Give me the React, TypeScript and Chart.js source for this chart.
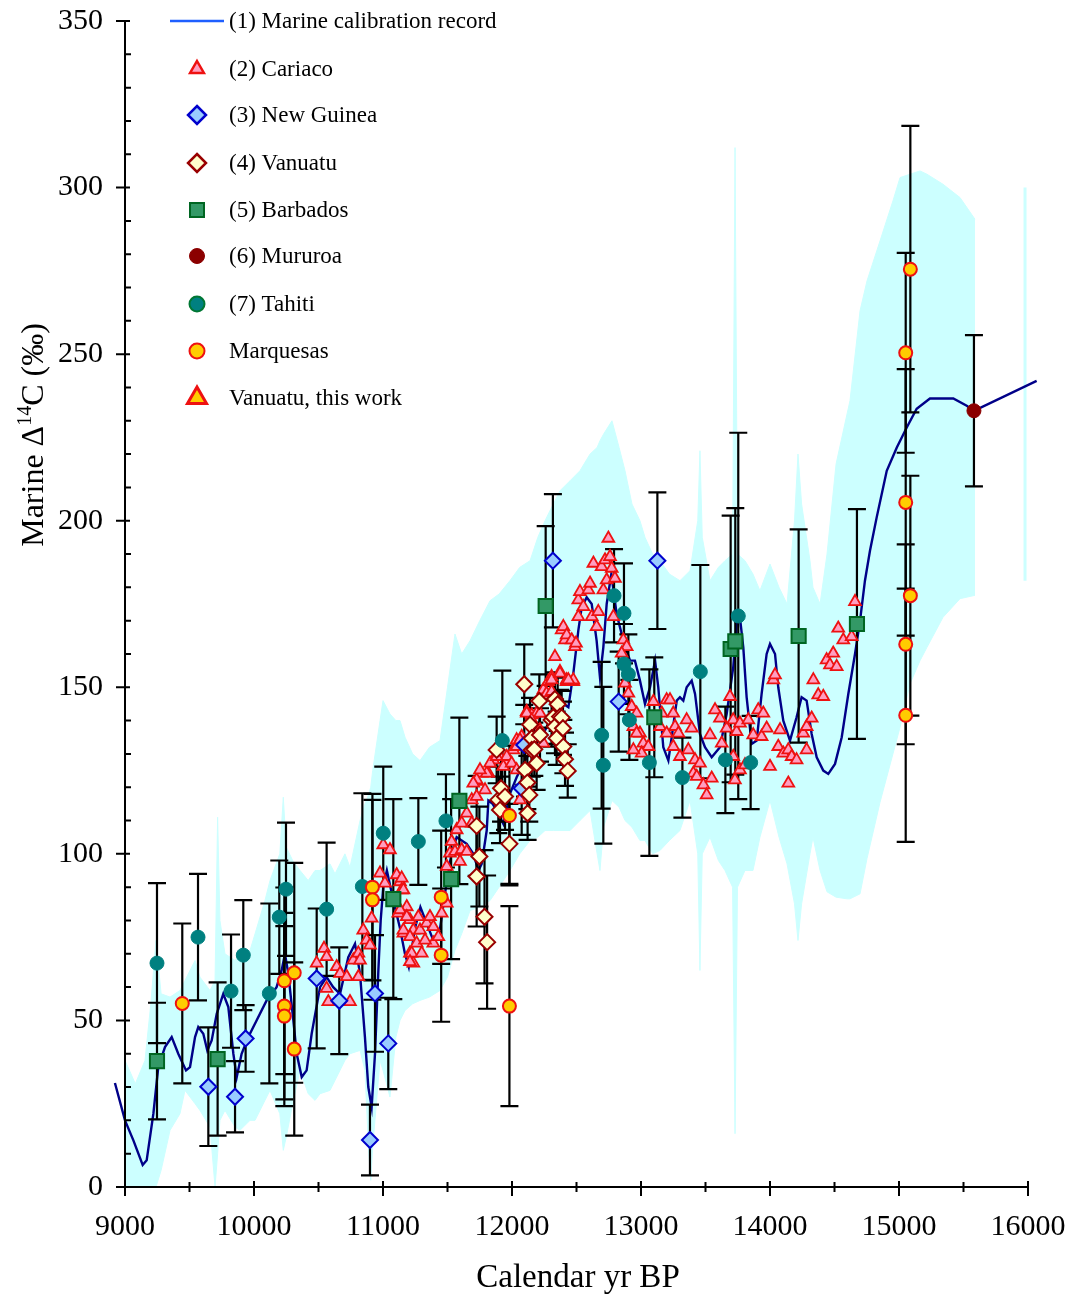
import React, { useEffect, useRef } from "react";
import { Chart, registerables } from "chart.js";

Chart.register(...registerables);

const FONT = '"Liberation Serif", "Times New Roman", serif';

// ---------- Marine calibration record (year BP, Δ14C ‰) ----------
const calYears = [8922, 9000, 9065, 9137, 9168, 9220, 9258, 9310, 9362, 9413, 9473, 9504, 9543, 9568, 9607, 9638, 9672, 9711, 9762, 9801, 9840, 9866, 9904, 9956, 10020, 10098, 10175, 10214, 10240, 10266, 10305, 10331, 10370, 10408, 10447, 10512, 10563, 10614, 10667, 10731, 10783, 10822, 10860, 10886, 10912, 10938, 10964, 10982, 11002, 11030, 11080, 11130, 11170, 11200, 11250, 11290, 11340, 11390, 11440, 11480, 11530, 11571, 11649, 11700, 11740, 11765, 11804, 11817, 11850, 11881, 11933, 11984, 12036, 12101, 12165, 12242, 12320, 12400, 12437, 12475, 12514, 12540, 12579, 12618, 12656, 12682, 12708, 12734, 12770, 12811, 12863, 12915, 12953, 12992, 13031, 13070, 13109, 13134, 13173, 13212, 13238, 13277, 13302, 13328, 13354, 13393, 13419, 13457, 13496, 13548, 13612, 13664, 13715, 13741, 13767, 13793, 13819, 13858, 13897, 13935, 13974, 14000, 14039, 14064, 14103, 14155, 14206, 14245, 14284, 14323, 14362, 14413, 14452, 14504, 14556, 14607, 14659, 14698, 14736, 14775, 14827, 14905, 14983, 15060, 15137, 15240, 15421, 15525, 15581, 16067];
const calValues = [31.2, 20, 14, 6.6, 8, 22, 36, 42, 45, 40, 35, 36, 45, 48, 46, 41, 44, 52, 58, 54, 40, 33, 40, 45, 50, 56, 60, 65, 70, 64, 50, 40, 33, 35, 46, 60, 63, 60, 58, 69, 73, 64, 45, 30, 24, 40, 65, 80, 90, 95, 86, 78, 70, 66, 78, 84, 79, 74, 77, 88, 100, 105, 103, 100, 95, 97, 107, 116, 115, 113, 109, 118, 123, 128, 132, 136, 142, 145, 144, 154, 167, 174, 177, 175, 164, 153, 162, 175, 184, 172, 164, 158, 158, 152, 145, 150, 158, 150, 132, 128, 135, 146, 147, 146, 150, 152, 148, 136, 132, 129, 132, 142, 156, 169, 171, 162, 147, 133, 134, 148, 160, 163, 160, 150, 140, 134, 141, 147, 146, 136, 129, 125, 124, 127, 135, 148, 160, 170, 182, 191, 201, 215, 222, 228, 233.6, 236.7, 236.7, 234.5, 233, 242];

// ---------- uncertainty envelope ----------
const bandYears = [9000, 9080, 9155, 9200, 9240, 9280, 9349, 9426, 9465, 9543, 9581, 9659, 9698, 9718, 9736, 9775, 9853, 9891, 9969, 10008, 10085, 10124, 10200, 10227, 10250, 10300, 10357, 10420, 10473, 10512, 10589, 10628, 10705, 10744, 10822, 10860, 10890, 10905, 10920, 10977, 11000, 11054, 11100, 11132, 11171, 11230, 11287, 11360, 11442, 11500, 11558, 11610, 11675, 11750, 11830, 11900, 11984, 12060, 12140, 12200, 12256, 12320, 12372, 12450, 12527, 12605, 12660, 12682, 12710, 12775, 12830, 12876, 12930, 12992, 13031, 13090, 13147, 13220, 13302, 13380, 13440, 13457, 13475, 13535, 13600, 13651, 13710, 13729, 13748, 13806, 13868, 13922, 14000, 14070, 14132, 14190, 14217, 14245, 14310, 14333, 14388, 14442, 14512, 14597, 14620, 14698, 14752, 14853, 14953, 15008, 15085, 15163, 15217, 15341, 15473, 15589];
const bandUpper = [38, 31, 38, 55, 74, 58, 57, 59, 62, 68, 63, 59, 62, 111, 80, 70, 68, 70, 71, 76, 86, 92, 100, 117, 102, 98, 95, 92, 95, 95, 97, 94, 100, 96, 110, 115, 118, 120, 125, 140, 146, 142, 140, 140, 135, 130, 128, 132, 134, 150, 166, 160, 164, 170, 176, 178, 182, 186, 188, 195, 200, 205, 209, 212, 215, 220, 222, 224, 226, 230, 222, 215, 205, 200, 195, 190, 188, 184, 182, 185, 200, 221, 195, 182, 186, 188, 190, 312, 190, 188, 184, 179, 187, 180, 175, 200, 220, 205, 188, 180, 175, 190, 217, 232, 236, 263, 272, 284, 296, 303, 304, 305, 304, 301, 297, 290.5];
const bandLower = [0, 0, 0, 0, 0, 5, 17, 22, 29, 25, 23, 18, 0, 10, 20, 23, 18, 17, 20, 20, 26, 29, 22, 11, 15, 25, 35, 28, 26, 28, 29, 32, 38, 40, 41, 35, 10, 2, 12, 38, 35, 27, 45, 50, 53, 55, 56, 57, 59, 63, 71, 76, 83, 84, 86, 90, 95, 100, 104, 105, 107, 107, 107, 107, 110, 113, 100, 95, 108, 116, 114, 110, 108, 104, 104, 100, 101, 104, 107, 116, 100, 65, 100, 105, 98, 95, 90, 16, 90, 95, 95, 105, 116, 105, 97, 85, 74, 85, 100, 105, 95, 88.6, 87, 86.5, 86.5, 88, 98.6, 115.5, 130, 138, 151, 158, 162, 171, 176.6, 177.6];
const isolatedBandYear = [15977, 15977];
const isolatedBandValues = [182, 300];

// ---------- data sets: [year, Δ14C] or [year, Δ14C, ±error] ----------
const cariaco: [number, number][] = [
  [10486, 67.2], [10543, 71.6], [10563, 69.1], [10563, 59.6], [10576, 55.6], [10641, 66.1], [10667, 64.1], [10719, 63.1], [10744, 55.6], [10770, 68.1], [10809, 70.2], [10822, 68.1], [10809, 63.1], [10847, 77.1], [10873, 74.1], [10899, 72.6], [10912, 80.7], [10977, 94.2], [11002, 102.7], [11015, 91.2], [11054, 101.2], [11106, 93.7], [11132, 91.6], [11145, 89.2], [11119, 82.2], [11184, 84.1], [11209, 80.2], [11158, 76.2], [11235, 77.1], [11209, 70.2], [11235, 67.2],
  [11145, 92.7], [11158, 89.2], [11132, 83.2], [11184, 81.1], [11158, 77.1], [11209, 75.1], [11222, 70.2], [11209, 67.6], [11274, 81.1], [11287, 77.1], [11261, 73.2], [11300, 70.2], [11339, 79.2], [11364, 81.1], [11390, 78.1], [11390, 73.2], [11429, 75.1], [11326, 74.1], [11455, 82.2], [11494, 85.2], [11494, 96.2], [11519, 100.2], [11532, 103.7], [11571, 107.2], [11558, 100.7], [11597, 97.7], [11610, 101.2], [11649, 100.7], [11610, 109.2], [11649, 112.2], [11688, 116.2], [11726, 121.7], [11765, 124.2], [11817, 124.2], [11791, 119.2], [11855, 128.2], [11907, 129.2], [11959, 127.2], [12010, 131.2], [12036, 134.2], [12075, 135.2], [12114, 142.7], [12153, 141.7], [12191, 142.2], [12217, 137.2], [12243, 149.2], [12281, 151.7], [12307, 153.2], [12333, 159.2], [12372, 154.7], [12423, 151.7], [12475, 151.7], [12062, 116.2], [11907, 133.7], [11726, 117.2], [11688, 109.2],
  [11726, 122.2], [11804, 124.2], [11933, 126.2], [11959, 129.2], [12036, 132.2], [12062, 134.2], [12114, 142.2], [12153, 140.2], [12217, 142.2], [12268, 148.2], [12307, 152.2], [12307, 148.7], [12372, 154.2], [12424, 152.2], [12385, 167.2], [12411, 164.2], [12488, 162.2], [11830, 127.2], [11881, 129.2], [11752, 125.2], [11700, 121.2], [11997, 127.2], [12036, 125.2], [12217, 136.2], [12243, 133.2],
  [12398, 168.2], [12424, 165.7], [12463, 164.2], [12496, 163.2], [12475, 152.2], [12437, 152.2], [12514, 176.2], [12527, 178.7], [12553, 174.2], [12514, 171.2], [12592, 179.2], [12605, 181.2], [12631, 187.2], [12618, 171.2], [12656, 168.2], [12669, 172.7], [12695, 186.2], [12721, 188.2], [12747, 194.7], [12760, 189.2], [12773, 185.7], [12708, 179.2], [12734, 182.2], [12798, 182.7], [12786, 171.2], [12863, 164.2], [12889, 162.2], [12850, 160.2], [12876, 151.2], [12902, 148.2], [12928, 144.2], [12966, 142.2], [12941, 138.2], [12992, 136.2], [13018, 133.2], [13057, 132.2], [13005, 130.2], [12966, 136.2], [12941, 131.2], [13096, 145.7], [13161, 142.2], [13199, 146.2], [13225, 146.2], [13250, 142.2], [13264, 138.2], [13290, 136.2], [13354, 140.2], [13250, 132.2], [13302, 129.2], [13148, 138.2], [13199, 136.2],
  [13393, 137.7], [13367, 131.2], [13419, 128.2], [13457, 127.2], [13406, 124.2], [13432, 123.2], [13484, 120.7], [13509, 117.7], [13548, 122.7], [13535, 135.7], [13574, 143.2], [13626, 133.2], [13612, 140.7], [13690, 147.2], [13664, 137.7], [13715, 140.2], [13741, 136.7], [13767, 139.2], [13715, 129.2], [13728, 122.2], [13767, 125.2], [13806, 126.7], [13832, 140.2], [13870, 135.7], [13909, 143.2], [13935, 135.2], [13948, 142.2], [13974, 137.7], [14000, 126.2], [14026, 152.2], [14039, 153.7], [14078, 137.2], [14064, 132.2], [14103, 130.2], [14142, 131.2], [14168, 129.2], [14206, 128.2], [14142, 121.2], [14258, 136.2], [14284, 138.2], [14323, 140.7], [14284, 131.2], [14336, 152.2], [14374, 147.7], [14413, 147.2], [14439, 158.2], [14465, 156.7], [14490, 160.2], [14517, 156.2], [14529, 167.7], [14568, 164.2], [14633, 165.2], [14659, 175.7],
];

const newGuinea: [number, number, number][] = [
  [9646, 30.1, 17.8], [9853, 27.1, 10.7], [9935, 44.6, 10], [10486, 62.6, 21], [10661, 55.9, 16], [10899, 14.1, 10.6], [10938, 58.1, 17.5], [11041, 43.1, 13.7], [12317, 188.0, 20], [13127, 188.0, 20.5], [12827, 145.7, 15], [12075, 119.7, 14], [12095, 132.7, 12],
];

const vanuatu: [number, number, number][] = [
  [11881, 131.2, 10], [11894, 116.2, 10], [11915, 119.7, 10], [11907, 113.2, 10], [11946, 117.2, 10], [11980, 103.0, 12], [12095, 150.9, 12], [12101, 125.2, 8], [12119, 121.4, 8], [12121, 112.2, 8], [12134, 117.7, 8], [12140, 138.8, 8], [12153, 134.7, 8], [12153, 131.2, 8], [12173, 131.4, 8], [12191, 127.2, 8], [12212, 145.9, 8], [12217, 135.7, 8], [12307, 140.2, 8], [12320, 141.0, 8], [12333, 146.5, 8], [12333, 138.2, 8], [12346, 134.7, 8], [12354, 144.9, 8], [12372, 141.2, 8], [12385, 140.9, 8], [12395, 137.7, 8], [12398, 132.2, 8], [12411, 128.4, 8], [12432, 124.9, 8], [11726, 108.4, 15], [11747, 99.2, 15], [11726, 93.2, 15], [11787, 81.1, 20], [11807, 73.5, 20],
];

const barbados: [number, number, number][] = [
  [9248, 37.8, 17.5], [9718, 38.4, 23], [11080, 86.4, 30], [11528, 92.4, 24], [11592, 115.9, 25], [12261, 174.4, 24], [13103, 141.0, 18], [13695, 161.5, 40], [13731, 163.8, 40], [14222, 165.4, 32], [14674, 169.0, 34.5],
];

const mururoa: [number, number, number][] = [[15581, 233, 22.7]];

const tahiti: [number, number, number][] = [
  [9248, 67.2, 24], [9566, 75.0, 19], [9822, 58.8, 17], [9917, 69.6, 16.5], [10119, 58.1, 27], [10196, 81.0, 17], [10248, 89.4, 20], [10563, 83.4, 20], [10840, 90.2, 28], [11002, 106.2, 20], [11274, 103.7, 13], [11488, 109.9, 14], [11925, 134.0, 21], [12695, 135.6, 22], [12708, 126.6, 23.5], [12791, 177.5, 14], [12868, 172.2, 15], [12868, 157.0, 12], [12902, 153.9, 12], [12910, 140.2, 12], [13065, 127.4, 28], [13321, 122.9, 12], [13460, 154.7, 32], [13654, 128.2, 16], [13754, 171.4, 55], [13850, 127.4, 14],
];

const marquesas: [number, number, number][] = [
  [9444, 55.1, 24], [10235, 61.9, 28], [10235, 54.3, 28], [10235, 51.3, 27], [10312, 64.3, 33], [10312, 41.4, 26], [10918, 90.0, 28], [10918, 86.2, 30], [11451, 87.0, 20], [11451, 69.6, 20], [11980, 111.5, 21], [11980, 54.3, 30], [15088, 275.5, 43], [15052, 250.4, 30], [15052, 205.5, 40], [15088, 177.5, 36], [15052, 162.9, 30], [15052, 141.6, 38],
];

const vanuatuThisWork: [number, number][] = [];

const xTicks = [9000, 10000, 11000, 12000, 13000, 14000, 15000, 16000];
const yTicks = [0, 50, 100, 150, 200, 250, 300, 350];

// ---------- styles ----------
const C = {
  band: "#ccffff",
  line: "#000088",
  legendLine: "#1f5fff",
  cariacoFill: "#ff9ec0",
  cariacoStroke: "#ee1111",
  ngFill: "#99ccff",
  ngStroke: "#0000cc",
  vanFill: "#ffffcc",
  vanStroke: "#990000",
  barFill: "#339966",
  barStroke: "#006622",
  murFill: "#8b0000",
  tahFill: "#008080",
  tahStroke: "#007755",
  marFill: "#ffcc00",
  marStroke: "#ee1111",
};

const legendItems = [
  { label: "(1) Marine calibration record", kind: "line" },
  { label: "(2) Cariaco", kind: "triangle", r: 8, fill: C.cariacoFill, stroke: C.cariacoStroke, lw: 2.5 },
  { label: "(3) New Guinea", kind: "diamond", r: 9, fill: C.ngFill, stroke: C.ngStroke, lw: 2.5 },
  { label: "(4) Vanuatu", kind: "diamond", r: 9, fill: C.vanFill, stroke: C.vanStroke, lw: 2.5 },
  { label: "(5) Barbados", kind: "square", r: 7, fill: C.barFill, stroke: C.barStroke, lw: 2 },
  { label: "(6) Mururoa", kind: "circle", r: 7.5, fill: C.murFill, stroke: C.murFill, lw: 1 },
  { label: "(7) Tahiti", kind: "circle", r: 7.5, fill: C.tahFill, stroke: "#007733", lw: 2 },
  { label: "Marquesas", kind: "circle", r: 7.5, fill: C.marFill, stroke: C.marStroke, lw: 2 },
  { label: "Vanuatu, this work", kind: "triangle", r: 11, fill: C.marFill, stroke: C.marStroke, lw: 3 },
];
const legendYs = [21, 69, 115, 163, 210, 256, 304, 351, 398];

function drawMarker(ctx: CanvasRenderingContext2D, kind: string, x: number, y: number, r: number, fill: string, stroke: string, lw: number) {
  ctx.save();
  ctx.beginPath();
  if (kind === "circle") {
    ctx.arc(x, y, r, 0, Math.PI * 2);
  } else if (kind === "square") {
    ctx.rect(x - r, y - r, 2 * r, 2 * r);
  } else if (kind === "diamond") {
    ctx.moveTo(x, y - r);
    ctx.lineTo(x + r, y);
    ctx.lineTo(x, y + r);
    ctx.lineTo(x - r, y);
    ctx.closePath();
  } else if (kind === "triangle") {
    const h = r * 0.866;
    ctx.moveTo(x, y - r);
    ctx.lineTo(x + h, y + r / 2);
    ctx.lineTo(x - h, y + r / 2);
    ctx.closePath();
  }
  ctx.fillStyle = fill;
  ctx.fill();
  ctx.lineWidth = lw;
  ctx.strokeStyle = stroke;
  ctx.stroke();
  ctx.restore();
}

const errorBarsPlugin = {
  id: "errorBars",
  afterDatasetDraw(chart: any, args: any) {
    const ds = chart.data.datasets[args.index];
    if (!ds.drawErrorBarsAfter) return;
    const { ctx } = chart;
    const xs = chart.scales.x;
    const ys = chart.scales.y;
    ctx.save();
    ctx.strokeStyle = "#000";
    ctx.lineWidth = 2.2;
    chart.data.datasets.forEach((d: any) => {
      if (!d.errors) return;
      d.data.forEach((p: any, i: number) => {
        const e = d.errors[i];
        const px = xs.getPixelForValue(p.x);
        const y1 = ys.getPixelForValue(p.y - e);
        const y2 = ys.getPixelForValue(p.y + e);
        ctx.beginPath();
        ctx.moveTo(px, y1);
        ctx.lineTo(px, y2);
        ctx.moveTo(px - 9, y1);
        ctx.lineTo(px + 9, y1);
        ctx.moveTo(px - 9, y2);
        ctx.lineTo(px + 9, y2);
        ctx.stroke();
      });
    });
    ctx.restore();
  },
};

const axesPlugin = {
  id: "axesDecor",
  afterDraw(chart: any) {
    const { ctx, chartArea } = chart;
    const { left, right, top, bottom } = chartArea;
    const xs = chart.scales.x;
    const ys = chart.scales.y;
    ctx.save();
    ctx.strokeStyle = "#000";
    ctx.lineWidth = 2;
    ctx.beginPath();
    ctx.moveTo(left, top);
    ctx.lineTo(left, bottom + 9);
    ctx.moveTo(left - 7, bottom);
    ctx.lineTo(right, bottom);
    for (let v = 0; v <= 350; v += 10) {
      const py = ys.getPixelForValue(v);
      if (v % 50 === 0) {
        ctx.moveTo(left - 9, py);
        ctx.lineTo(left + 5, py);
      } else {
        ctx.moveTo(left - 1, py);
        ctx.lineTo(left + 6, py);
      }
    }
    for (let v = 9000; v <= 16000; v += 500) {
      const px = xs.getPixelForValue(v);
      if (v % 1000 === 0) {
        ctx.moveTo(px, bottom - 6);
        ctx.lineTo(px, bottom + 9);
      } else {
        ctx.moveTo(px, bottom - 5);
        ctx.lineTo(px, bottom + 5);
      }
    }
    ctx.stroke();

    // axis titles
    ctx.fillStyle = "#000";
    ctx.font = `33px ${FONT}`;
    ctx.textAlign = "center";
    ctx.textBaseline = "alphabetic";
    ctx.fillText("Calendar yr BP", 578, 1287);

    ctx.save();
    ctx.translate(43, 435);
    ctx.rotate(-Math.PI / 2);
    ctx.textAlign = "left";
    const p1 = "Marine \u0394";
    const p2 = "14";
    const p3 = "C (\u2030)";
    ctx.font = `32px ${FONT}`;
    const w1 = ctx.measureText(p1).width;
    const w3 = ctx.measureText(p3).width;
    ctx.font = `20px ${FONT}`;
    const w2 = ctx.measureText(p2).width;
    let x0 = -(w1 + w2 + w3) / 2;
    ctx.font = `32px ${FONT}`;
    ctx.fillText(p1, x0, 0);
    x0 += w1;
    ctx.font = `20px ${FONT}`;
    ctx.fillText(p2, x0, -12);
    x0 += w2;
    ctx.font = `32px ${FONT}`;
    ctx.fillText(p3, x0, 0);
    ctx.restore();

    // legend
    ctx.font = `23px ${FONT}`;
    ctx.textAlign = "left";
    ctx.textBaseline = "middle";
    legendItems.forEach((it: any, i: number) => {
      const y = legendYs[i];
      if (it.kind === "line") {
        ctx.strokeStyle = C.legendLine;
        ctx.lineWidth = 2.5;
        ctx.beginPath();
        ctx.moveTo(170, y);
        ctx.lineTo(224, y);
        ctx.stroke();
      } else {
        drawMarker(ctx, it.kind, 197, y, it.r, it.fill, it.stroke, it.lw);
      }
      ctx.fillStyle = "#000";
      ctx.fillText(it.label, 229, y + 1);
    });
    ctx.restore();
  },
};

const toPts = (xs: number[], ys: number[]) => xs.map((x, i) => ({ x, y: ys[i] }));
const pairPts = (arr: number[][]) => arr.map((p) => ({ x: p[0], y: p[1] }));
const errs = (arr: number[][]) => arr.map((p) => p[2]);

export default function App() {
  const ref = useRef<HTMLCanvasElement>(null);
  useEffect(() => {
    const canvas = ref.current;
    if (!canvas) return;
    const datasets: any[] = [
      { label: "band upper", data: toPts(bandYears, bandUpper), showLine: true, fill: "+1", backgroundColor: C.band, borderColor: C.band, borderWidth: 1, pointRadius: 0, order: 12 },
      { label: "band lower", data: toPts(bandYears, bandLower), showLine: true, fill: false, borderColor: C.band, borderWidth: 1, pointRadius: 0, order: 11 },
      { label: "band isolated", data: toPts(isolatedBandYear, isolatedBandValues), showLine: true, fill: false, borderColor: C.band, borderWidth: 3, pointRadius: 0, order: 10 },
      { label: "(1) Marine calibration record", data: toPts(calYears, calValues), showLine: true, fill: false, borderColor: C.line, borderWidth: 2.4, pointRadius: 0, order: 9, clip: false, drawErrorBarsAfter: true },
      { label: "(2) Cariaco", data: pairPts(cariaco), pointStyle: "triangle", pointRadius: 6.8, backgroundColor: C.cariacoFill, borderColor: C.cariacoStroke, borderWidth: 1.8, order: 8 },
      { label: "(3) New Guinea", data: pairPts(newGuinea), errors: errs(newGuinea), pointStyle: "rectRot", pointRadius: 8, backgroundColor: C.ngFill, borderColor: C.ngStroke, borderWidth: 2, order: 7 },
      { label: "(4) Vanuatu", data: pairPts(vanuatu), errors: errs(vanuatu), pointStyle: "rectRot", pointRadius: 8, backgroundColor: C.vanFill, borderColor: C.vanStroke, borderWidth: 2, order: 6 },
      { label: "(5) Barbados", data: pairPts(barbados), errors: errs(barbados), pointStyle: "rect", pointRadius: 10, backgroundColor: C.barFill, borderColor: C.barStroke, borderWidth: 2, order: 5 },
      { label: "(7) Tahiti", data: pairPts(tahiti), errors: errs(tahiti), pointStyle: "circle", pointRadius: 7, backgroundColor: C.tahFill, borderColor: C.tahFill, borderWidth: 1, order: 4 },
      { label: "Marquesas", data: pairPts(marquesas), errors: errs(marquesas), pointStyle: "circle", pointRadius: 6.5, backgroundColor: C.marFill, borderColor: C.marStroke, borderWidth: 2, order: 3 },
      { label: "(6) Mururoa", data: pairPts(mururoa), errors: errs(mururoa), pointStyle: "circle", pointRadius: 7, backgroundColor: C.murFill, borderColor: C.murFill, borderWidth: 1, order: 2 },
      { label: "Vanuatu, this work", data: pairPts(vanuatuThisWork), pointStyle: "triangle", pointRadius: 10, backgroundColor: C.marFill, borderColor: C.marStroke, borderWidth: 2.5, order: 1 },
    ];
    const chart = new Chart(canvas, {
      type: "scatter",
      data: { datasets },
      options: {
        animation: false,
        responsive: false,
        devicePixelRatio: 1,
        events: [],
        layout: { padding: { left: 0, top: 21, right: 44, bottom: 0 } },
        plugins: { legend: { display: false }, tooltip: { enabled: false } },
        scales: {
          x: {
            type: "linear",
            min: 9000,
            max: 16000,
            grid: { display: false, drawTicks: false },
            border: { display: false },
            afterBuildTicks: (s: any) => { s.ticks = xTicks.map((v) => ({ value: v })); },
            afterFit: (s: any) => { s.height = 109; s.paddingLeft = 0; s.paddingRight = 0; s.paddingTop = 0; s.paddingBottom = 0; },
            ticks: { color: "#000", font: { family: FONT, size: 30 }, padding: 22, maxRotation: 0, autoSkip: false, callback: (v: any) => String(v) },
          },
          y: {
            type: "linear",
            min: 0,
            max: 350,
            grid: { display: false, drawTicks: false },
            border: { display: false },
            afterBuildTicks: (s: any) => { s.ticks = yTicks.map((v) => ({ value: v })); },
            afterFit: (s: any) => { s.width = 125; s.paddingLeft = 0; s.paddingRight = 0; s.paddingTop = 0; s.paddingBottom = 0; },
            ticks: { color: "#000", font: { family: FONT, size: 30 }, padding: 22, autoSkip: false, callback: (v: any) => String(v) },
          },
        },
      } as any,
      plugins: [errorBarsPlugin, axesPlugin],
    });
    return () => chart.destroy();
  }, []);
  return (
    <div style={{ position: "fixed", left: 0, top: 0, width: 1072, height: 1296, background: "#fff" }}>
      <canvas ref={ref} width={1072} height={1296} style={{ display: "block", width: 1072, height: 1296 }} />
    </div>
  );
}
